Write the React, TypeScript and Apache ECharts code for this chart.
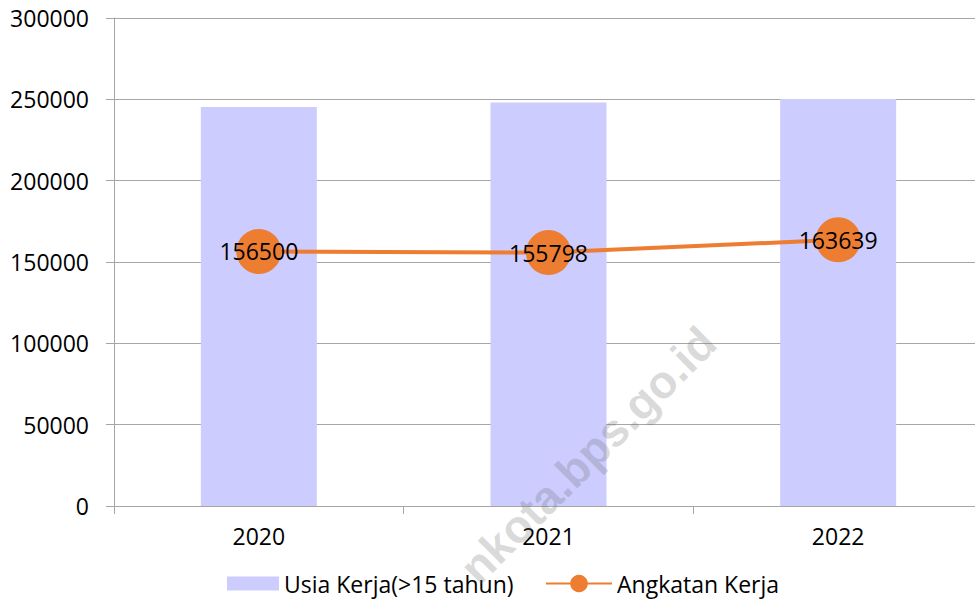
import React, { useEffect, useRef } from "react";
import * as echarts from "echarts";

const categories = ["2020", "2021", "2022"];
const usiaKerja = [245300, 248000, 250200];
const angkatanKerja = [156500, 155798, 163639];
const yTicks = { min: 0, max: 300000, interval: 50000 };
const seriesNames = ["Usia Kerja(>15 tahun)", "Angkatan Kerja"];
const watermark = "nkota.bps.go.id";

const FONT = "'Open Sans', sans-serif";
const GRID_COLOR = "#a6a6a6";

export default function App() {
  const ref = useRef<HTMLDivElement>(null);
  useEffect(() => {
    if (!ref.current) return;
    const chart = echarts.init(ref.current, undefined, { renderer: "svg" });
    chart.setOption({
      animation: false,
      backgroundColor: "#ffffff",
      textStyle: { fontFamily: FONT },
      grid: {
        left: 114,
        right: -8,
        top: 18,
        bottom: 94,
        containLabel: false,
        outerBoundsMode: "none",
      },
      legend: [
        {
          data: [{ name: seriesNames[0] }],
          left: 222,
          top: 567,
          itemWidth: 52,
          itemHeight: 14,
          icon: "rect",
          textStyle: { fontFamily: FONT, fontSize: 23, color: "#000" },
        },
        {
          data: [{ name: seriesNames[1] }],
          left: 540,
          top: 567,
          itemWidth: 66,
          itemHeight: 22,
          textStyle: { fontFamily: FONT, fontSize: 23, color: "#000" },
        },
      ],
      xAxis: {
        type: "category",
        data: categories,
        boundaryGap: true,
        axisLine: { show: true, lineStyle: { color: GRID_COLOR, width: 1 } },
        axisTick: { show: true, length: 8, lineStyle: { color: GRID_COLOR } },
        axisLabel: { color: "#000", fontSize: 23, fontFamily: FONT, margin: 18 },
        splitLine: { show: false },
      },
      yAxis: {
        type: "value",
        min: yTicks.min,
        max: yTicks.max,
        interval: yTicks.interval,
        axisLine: { show: true, lineStyle: { color: GRID_COLOR, width: 1 } },
        axisTick: { show: true, length: 8, lineStyle: { color: GRID_COLOR } },
        axisLabel: {
          color: "#000",
          fontSize: 23,
          fontFamily: FONT,
          margin: 25,
          formatter: (v: number) => String(v),
        },
        splitLine: { show: true, lineStyle: { color: GRID_COLOR, width: 1 } },
      },
      series: [
        {
          name: seriesNames[0],
          type: "bar",
          data: usiaKerja,
          barWidth: 116,
          itemStyle: { color: "#ccccff" },
          z: 2,
        },
        {
          name: seriesNames[1],
          type: "line",
          data: angkatanKerja,
          symbol: "circle",
          symbolSize: 45,
          lineStyle: { color: "#ed7d31", width: 4 },
          itemStyle: { color: "#ed7d31" },
          label: {
            show: true,
            position: "inside",
            color: "#000",
            fontSize: 23,
            fontFamily: FONT,
          },
          z: 3,
        },
      ],
      graphic: [
        {
          type: "text",
          x: 588,
          y: 455,
          rotation: Math.PI / 4,
          z: 100,
          silent: true,
          style: {
            text: watermark,
            fontFamily: "'Liberation Sans', Arial, sans-serif",
            fontWeight: "bold",
            fontSize: 46,
            fill: "rgba(110,110,110,0.25)",
            align: "center",
            verticalAlign: "middle",
          },
        },
      ],
    });
    return () => chart.dispose();
  }, []);
  return (
    <div
      ref={ref}
      style={{ position: "fixed", left: 0, top: 0, width: 975, height: 600 }}
    />
  );
}
